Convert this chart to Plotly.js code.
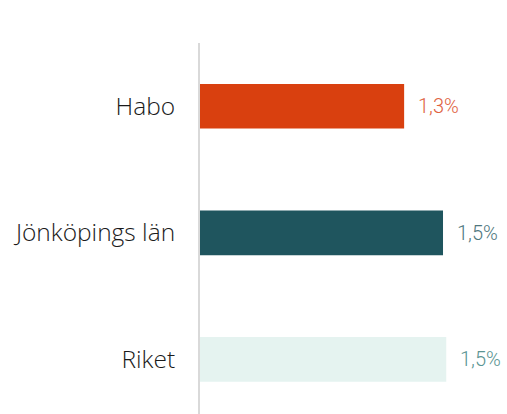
<!DOCTYPE html>
<html><head><meta charset="utf-8">
<script src="https://cdn.plot.ly/plotly-3.0.1.min.js"></script>
<style>html,body{margin:0;padding:0;background:#fff;}</style>
</head><body><div id="chart" style="width:507px;height:414px;"></div>
<script>
const categories = ["Habo", "Jönköpings län", "Riket"];
const values = [1.26, 1.5, 1.52];
const barColors = ["#d9400f", "#1f555e", "#e5f3f0"];
const labelColors = ["#e0633f", "#4f777d", "#5a9492"];

const trace = {
  type: "bar", orientation: "h",
  y: categories, x: values,
  marker: {color: barColors},
  width: 0.353,
  hoverinfo: "skip"
};
const annotations = categories.map((c, i) => ({
  x: values[i], y: c, xref: "x", yref: "y",
  text: values[i].toFixed(1).replace(".", ",") + "%",
  showarrow: false, xanchor: "left", yanchor: "middle", xshift: 12,
  font: {family: "Roboto", size: 20, weight: 300, color: labelColors[i]}
}));
const layout = {
  width: 507, height: 414,
  margin: {l: 200, r: 0, t: 43, b: 0},
  paper_bgcolor: "#fff", plot_bgcolor: "#fff",
  showlegend: false,
  xaxis: {range: [0, 1.895], visible: false, fixedrange: true},
  yaxis: {range: [2.432, -0.5], type: "category", showgrid: false, zeroline: false,
    showline: true, linecolor: "#d9d9d9", linewidth: 2,
    ticks: "", ticklabelstandoff: 18,
    tickfont: {family: "Open Sans", size: 24.5, weight: 300, color: "#1a1a1a"}},
  annotations: annotations
};
Plotly.newPlot("chart", [trace], layout, {displayModeBar: false, staticPlot: true});
</script></body></html>
